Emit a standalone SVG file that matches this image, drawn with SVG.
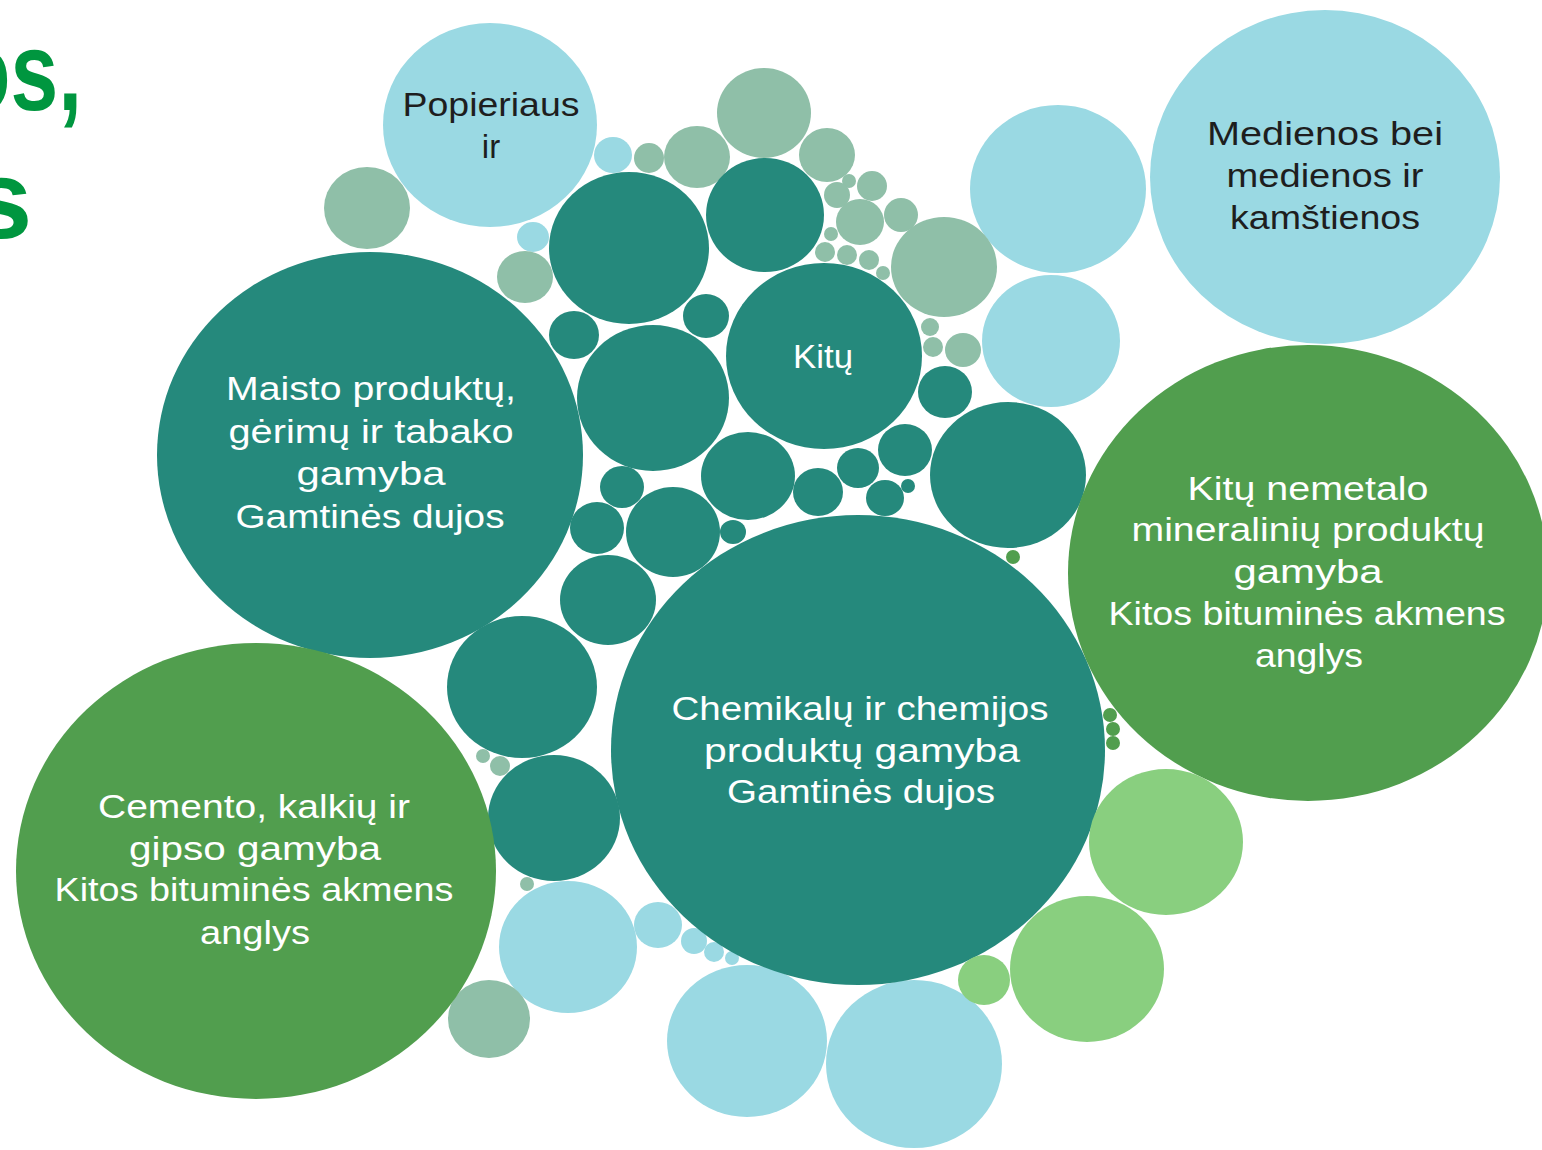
<svg xmlns="http://www.w3.org/2000/svg" width="1542" height="1150" viewBox="0 0 1542 1150">
<style>
.t{fill:#25897C}.s{fill:#8FBFA8}.b{fill:#9AD9E3}.g{fill:#519E4E}.lg{fill:#89CF7F}
text{font-family:"Liberation Sans",Arial,sans-serif;font-size:33px;text-anchor:middle}
.w{fill:#FFFFFF}.d{fill:#1E1E1E}
.title{font-family:"Liberation Sans",Arial,sans-serif;font-weight:bold;font-size:112px;fill:#00963F;text-anchor:start}
</style>
<rect width="1542" height="1150" fill="#FFFFFF"/>
<text class="title" x="-42" y="110" textLength="124" lengthAdjust="spacingAndGlyphs">os,</text>
<text class="title" x="-30" y="238">s</text>
<g id="connectors"></g>
<g id="bubbles">
<!-- light blue -->
<g id="popieriaus"><ellipse class="b" cx="490" cy="125" rx="107" ry="102"/><text class="d" x="491" y="116" textLength="177" lengthAdjust="spacingAndGlyphs">Popieriaus</text><text class="d" x="491" y="158">ir</text></g>
<g id="medienos"><ellipse class="b" cx="1325" cy="177" rx="175" ry="167"/><text class="d" x="1325" y="145" textLength="236" lengthAdjust="spacingAndGlyphs">Medienos bei</text><text class="d" x="1325" y="187" textLength="197" lengthAdjust="spacingAndGlyphs">medienos ir</text><text class="d" x="1325" y="229" textLength="190" lengthAdjust="spacingAndGlyphs">kamštienos</text></g>
<g id="b1"><ellipse class="b" cx="1058" cy="189" rx="88" ry="84"/></g>
<g id="b2"><ellipse class="b" cx="1051" cy="341" rx="69" ry="66"/></g>
<g id="b3"><ellipse class="b" cx="613" cy="155" rx="19" ry="18"/></g>
<g id="b4"><ellipse class="b" cx="533" cy="237" rx="16" ry="15"/></g>
<g id="b5"><ellipse class="b" cx="568" cy="947" rx="69" ry="66"/></g>
<g id="b6"><ellipse class="b" cx="658" cy="925" rx="24" ry="23"/></g>
<g id="b7"><ellipse class="b" cx="694" cy="941" rx="13" ry="13"/></g>
<g id="b8"><ellipse class="b" cx="714" cy="952" rx="10" ry="10"/></g>
<g id="b9"><ellipse class="b" cx="732" cy="958" rx="7" ry="7"/></g>
<g id="b10"><ellipse class="b" cx="747" cy="1041" rx="80" ry="76"/></g>
<g id="b11"><ellipse class="b" cx="914" cy="1064" rx="88" ry="84"/></g>
<!-- sage -->
<g id="s1"><ellipse class="s" cx="367" cy="208" rx="43" ry="41"/></g>
<g id="s2"><ellipse class="s" cx="525" cy="277" rx="28" ry="26"/></g>
<g id="s3"><ellipse class="s" cx="649" cy="158" rx="15" ry="15"/></g>
<g id="s4"><ellipse class="s" cx="697" cy="157" rx="33" ry="31"/></g>
<g id="s5"><ellipse class="s" cx="764" cy="113" rx="47" ry="45"/></g>
<g id="s6"><ellipse class="s" cx="827" cy="155" rx="28" ry="27"/></g>
<g id="s7"><ellipse class="s" cx="849" cy="181" rx="7" ry="7"/></g>
<g id="s8"><ellipse class="s" cx="837" cy="195" rx="13" ry="13"/></g>
<g id="s9"><ellipse class="s" cx="872" cy="186" rx="15" ry="15"/></g>
<g id="s10"><ellipse class="s" cx="860" cy="222" rx="24" ry="23"/></g>
<g id="s11"><ellipse class="s" cx="901" cy="215" rx="17" ry="17"/></g>
<g id="s12"><ellipse class="s" cx="831" cy="234" rx="7" ry="7"/></g>
<g id="s13"><ellipse class="s" cx="825" cy="252" rx="10" ry="10"/></g>
<g id="s14"><ellipse class="s" cx="847" cy="255" rx="10" ry="10"/></g>
<g id="s15"><ellipse class="s" cx="869" cy="260" rx="10" ry="10"/></g>
<g id="s16"><ellipse class="s" cx="883" cy="273" rx="7" ry="7"/></g>
<g id="s17"><ellipse class="s" cx="944" cy="267" rx="53" ry="50"/></g>
<g id="s18"><ellipse class="s" cx="930" cy="327" rx="9" ry="9"/></g>
<g id="s19"><ellipse class="s" cx="933" cy="347" rx="10" ry="10"/></g>
<g id="s20"><ellipse class="s" cx="963" cy="350" rx="18" ry="17"/></g>
<g id="s21"><ellipse class="s" cx="489" cy="1019" rx="41" ry="39"/></g>
<g id="s22"><ellipse class="s" cx="483" cy="756" rx="7" ry="7"/></g>
<g id="s23"><ellipse class="s" cx="500" cy="766" rx="10" ry="10"/></g>
<g id="s24"><ellipse class="s" cx="527" cy="884" rx="7" ry="7"/></g>
<!-- teal -->
<g id="maisto"><ellipse class="t" cx="370" cy="455" rx="213" ry="203"/><text class="w" x="371" y="400" textLength="290" lengthAdjust="spacingAndGlyphs">Maisto produktų,</text><text class="w" x="371" y="443" textLength="285" lengthAdjust="spacingAndGlyphs">gėrimų ir tabako</text><text class="w" x="371" y="485" textLength="149" lengthAdjust="spacingAndGlyphs">gamyba</text><text class="w" x="370" y="528" textLength="269" lengthAdjust="spacingAndGlyphs">Gamtinės dujos</text></g>
<g id="chemikalu"><ellipse class="t" cx="858" cy="750" rx="247" ry="235"/><text class="w" x="860" y="720" textLength="377" lengthAdjust="spacingAndGlyphs">Chemikalų ir chemijos</text><text class="w" x="862" y="762" textLength="316" lengthAdjust="spacingAndGlyphs">produktų gamyba</text><text class="w" x="861" y="803" textLength="268" lengthAdjust="spacingAndGlyphs">Gamtinės dujos</text></g>
<g id="kitu"><ellipse class="t" cx="824" cy="356" rx="98" ry="93"/><text class="w" x="823" y="368" textLength="60" lengthAdjust="spacingAndGlyphs">Kitų</text></g>
<g id="t1"><ellipse class="t" cx="629" cy="248" rx="80" ry="76"/></g>
<g id="t2"><ellipse class="t" cx="765" cy="215" rx="59" ry="57"/></g>
<g id="t3"><ellipse class="t" cx="706" cy="316" rx="23" ry="22"/></g>
<g id="t4"><ellipse class="t" cx="574" cy="335" rx="25" ry="24"/></g>
<g id="t5"><ellipse class="t" cx="653" cy="398" rx="76" ry="73"/></g>
<g id="t6"><ellipse class="t" cx="622" cy="487" rx="22" ry="21"/></g>
<g id="t7"><ellipse class="t" cx="597" cy="528" rx="27" ry="26"/></g>
<g id="t8"><ellipse class="t" cx="673" cy="532" rx="47" ry="45"/></g>
<g id="t9"><ellipse class="t" cx="733" cy="532" rx="13" ry="12"/></g>
<g id="t10"><ellipse class="t" cx="608" cy="600" rx="48" ry="45"/></g>
<g id="t11"><ellipse class="t" cx="748" cy="476" rx="47" ry="44"/></g>
<g id="t12"><ellipse class="t" cx="818" cy="492" rx="25" ry="24"/></g>
<g id="t13"><ellipse class="t" cx="858" cy="468" rx="21" ry="20"/></g>
<g id="t14"><ellipse class="t" cx="905" cy="450" rx="27" ry="26"/></g>
<g id="t15"><ellipse class="t" cx="885" cy="498" rx="19" ry="18"/></g>
<g id="t16"><ellipse class="t" cx="908" cy="486" rx="7" ry="7"/></g>
<g id="t17"><ellipse class="t" cx="945" cy="392" rx="27" ry="26"/></g>
<g id="t18"><ellipse class="t" cx="1008" cy="475" rx="78" ry="73"/></g>
<g id="t19"><ellipse class="t" cx="522" cy="687" rx="75" ry="71"/></g>
<g id="t20"><ellipse class="t" cx="554" cy="818" rx="66" ry="63"/></g>
<!-- green -->
<g id="cemento"><ellipse class="g" cx="256" cy="871" rx="240" ry="228"/><text class="w" x="254" y="818" textLength="312" lengthAdjust="spacingAndGlyphs">Cemento, kalkių ir</text><text class="w" x="255" y="860" textLength="252" lengthAdjust="spacingAndGlyphs">gipso gamyba</text><text class="w" x="254" y="901" textLength="399" lengthAdjust="spacingAndGlyphs">Kitos bituminės akmens</text><text class="w" x="255" y="944" textLength="110" lengthAdjust="spacingAndGlyphs">anglys</text></g>
<g id="nemetalo"><ellipse class="g" cx="1308" cy="573" rx="240" ry="228"/><text class="w" x="1308" y="500" textLength="241" lengthAdjust="spacingAndGlyphs">Kitų nemetalo</text><text class="w" x="1308" y="541" textLength="353" lengthAdjust="spacingAndGlyphs">mineralinių produktų</text><text class="w" x="1308" y="583" textLength="149" lengthAdjust="spacingAndGlyphs">gamyba</text><text class="w" x="1307" y="625" textLength="397" lengthAdjust="spacingAndGlyphs">Kitos bituminės akmens</text><text class="w" x="1309" y="667" textLength="108" lengthAdjust="spacingAndGlyphs">anglys</text></g>
<g id="g1"><ellipse class="g" cx="1013" cy="557" rx="7" ry="7"/></g>
<g id="g2"><ellipse class="g" cx="1110" cy="715" rx="7" ry="7"/></g>
<g id="g3"><ellipse class="g" cx="1113" cy="729" rx="7" ry="7"/></g>
<g id="g4"><ellipse class="g" cx="1113" cy="743" rx="7" ry="7"/></g>
<!-- light green -->
<g id="lg1"><ellipse class="lg" cx="1166" cy="842" rx="77" ry="73"/></g>
<g id="lg2"><ellipse class="lg" cx="1087" cy="969" rx="77" ry="73"/></g>
<g id="lg3"><ellipse class="lg" cx="984" cy="980" rx="26" ry="25"/></g>
</g>
</svg>
